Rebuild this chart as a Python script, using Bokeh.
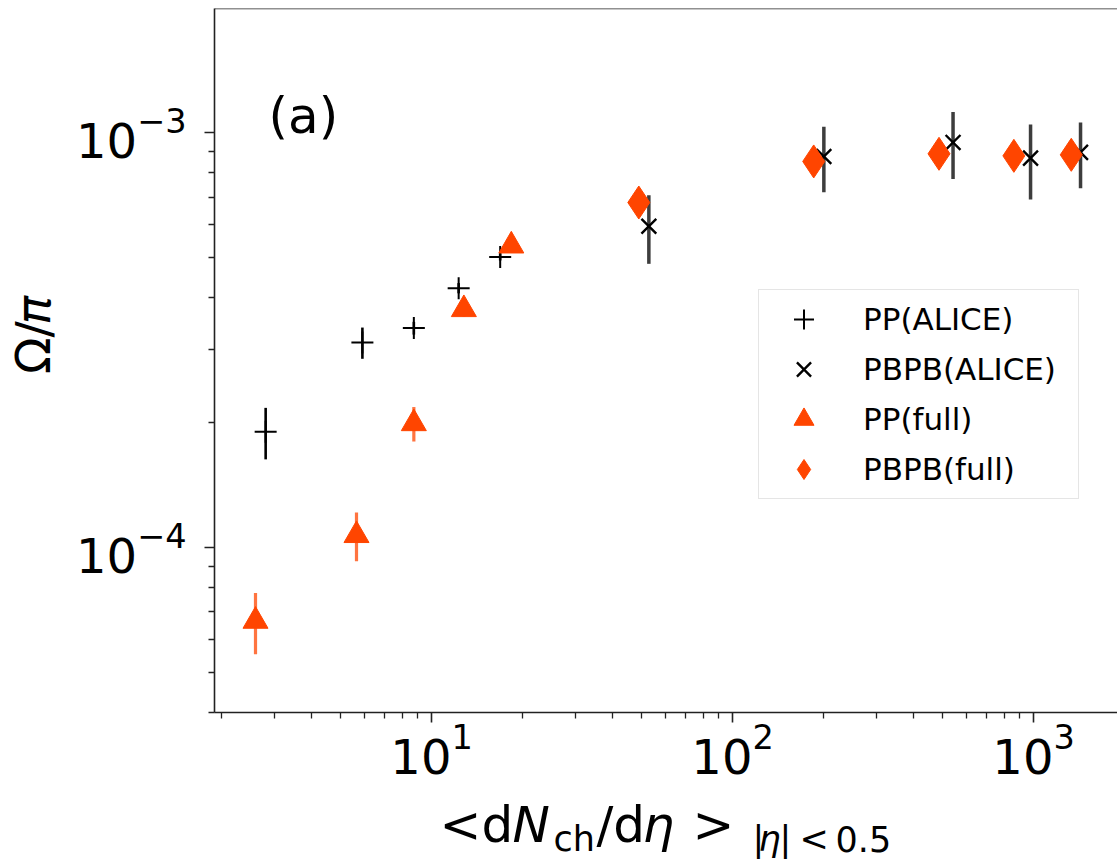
import numpy as np
from math import log10, pi
from bokeh.plotting import figure
from bokeh.layouts import row, column
from bokeh.models import (ColumnDataSource, FixedTicker, Label, Legend,
                          LegendItem, Span, Range1d)
from bokeh.embed import file_html
from bokeh.resources import INLINE

# ---- data ----
pp_alice_x = [2.81, 5.89, 8.73, 12.3, 16.9]
pp_alice_y = [1.90e-4, 3.12e-4, 3.38e-4, 4.22e-4, 5.02e-4]
pp_alice_err = [0.27e-4, 0.27e-4, 0.12e-4, 0.12e-4, 0.10e-4]

pbpb_alice_x = [52.7, 201.0, 540.0, 977.0, 1432.0]
pbpb_alice_y = [5.95e-4, 8.77e-4, 9.48e-4, 8.69e-4, 8.97e-4]
pbpb_alice_err = [1.12e-4, 1.58e-4, 1.74e-4, 1.79e-4, 1.62e-4]

pp_full_x = [2.60, 5.63, 8.73, 12.8, 18.4]
pp_full_y = [6.64e-5, 1.069e-4, 1.99e-4, 3.75e-4, 5.34e-4]
pp_full_err = [1.12e-5, 1.44e-5, 1.9e-5, 1.5e-5, 2.0e-5]

pbpb_full_x = [48.8, 186.0, 485.0, 860.0, 1334.0]
pbpb_full_y = [6.79e-4, 8.53e-4, 8.90e-4, 8.80e-4, 8.85e-4]

legend_labels = ["PP(ALICE)", "PBPB(ALICE)", "PP(full)", "PBPB(full)"]

x_major = [10, 100, 1000]
x_minor = [2, 3, 4, 5, 6, 7, 8, 9, 20, 30, 40, 50, 60, 70, 80, 90,
           200, 300, 400, 500, 600, 700, 800, 900]
y_major = [1e-4, 1e-3]
y_minor = [4e-5, 5e-5, 6e-5, 7e-5, 8e-5, 9e-5,
           2e-4, 3e-4, 4e-4, 5e-4, 6e-4, 7e-4, 8e-4, 9e-4]

X_RANGE = (1.90, 1900.0)
Y_RANGE = (3.995e-5, 1.995e-3)

ORANGE = "#ff4500"
SPINE = "#222222"
FONT = "DejaVu Sans"
MID = 0.36   # distance baseline -> text middle, in em

# ---- layout geometry (page pixels) ----
W, H = 1117, 859
YT_W = 70            # strip holding the y title
MAIN_H = 790         # main figure height
XT_H = H - MAIN_H    # strip holding the x title

p = figure(width=W - YT_W, height=MAIN_H, x_axis_type="log", y_axis_type="log",
           x_range=X_RANGE, y_range=Y_RANGE,
           output_backend="svg", toolbar_location=None,
           min_border_left=214 - YT_W, min_border_right=0, min_border_top=8,
           min_border_bottom=MAIN_H - 712)
p.outline_line_color = None
p.grid.visible = False
p.background_fill_color = "white"
p.border_fill_color = "white"

for ax in (p.xaxis[0], p.yaxis[0]):
    ax.axis_line_color = SPINE
    ax.axis_line_width = 1.6
    ax.major_tick_line_color = SPINE
    ax.major_tick_line_width = 1.6
    ax.minor_tick_line_color = SPINE
    ax.minor_tick_line_width = 1.3
    ax.major_tick_out = 10
    ax.major_tick_in = 0
    ax.minor_tick_out = 6
    ax.minor_tick_in = 0
    ax.major_label_text_font = FONT
    ax.major_label_text_font_size = "48px"
    ax.major_label_text_color = "black"
p.xaxis.major_label_standoff = 0
p.yaxis.major_label_standoff = 18
p.xaxis.ticker = FixedTicker(ticks=x_major, minor_ticks=x_minor)
p.yaxis.ticker = FixedTicker(ticks=y_major, minor_ticks=y_minor)

p.add_layout(Span(location=Y_RANGE[1], dimension="width",
                  line_color=SPINE, line_width=1.6))

def err_source(xs, ys, es):
    ys = np.array(ys)
    es = np.array(es)
    return ColumnDataSource(dict(x=xs, y=list(ys), lo=list(ys - es), hi=list(ys + es)))

s_ppa = err_source(pp_alice_x, pp_alice_y, pp_alice_err)
s_pba = err_source(pbpb_alice_x, pbpb_alice_y, pbpb_alice_err)
s_ppf = err_source(pp_full_x, pp_full_y, pp_full_err)
s_pbf = ColumnDataSource(dict(x=pbpb_full_x, y=pbpb_full_y))

p.segment(x0="x", y0="lo", x1="x", y1="hi", source=s_ppa,
          line_color="black", line_width=2.6)
r_ppa = p.scatter("x", "y", source=s_ppa, marker="cross", size=22,
                  line_color="black", line_width=2)

p.segment(x0="x", y0="lo", x1="x", y1="hi", source=s_pba,
          line_color="#3d3d3d", line_width=3.5)
r_pba = p.scatter("x", "y", source=s_pba, marker="x", size=21,
                  line_color="black", line_width=2.4)

p.segment(x0="x", y0="lo", x1="x", y1="hi", source=s_ppf,
          line_color=ORANGE, line_alpha=0.75, line_width=3.2)
r_ppf = p.scatter("x", "y", source=s_ppf, marker="triangle", size=25,
                  fill_color=ORANGE, line_color=ORANGE, line_width=1)

r_pbf = p.scatter("x", "y", source=s_pbf, marker="diamond", size=33,
                  fill_color=ORANGE, line_color=ORANGE, line_width=1)

legend = Legend(items=[LegendItem(label=legend_labels[0], renderers=[r_ppa]),
                       LegendItem(label=legend_labels[1], renderers=[r_pba]),
                       LegendItem(label=legend_labels[2], renderers=[r_ppf]),
                       LegendItem(label=legend_labels[3], renderers=[r_pbf])],
                location=(544, 213), glyph_width=81, glyph_height=50,
                spacing=0, padding=4, label_standoff=19, label_width=211,
                margin=0, label_text_font=FONT, label_text_font_size="31px",
                label_text_color="black",
                border_line_color="#cccccc", border_line_width=1.2,
                background_fill_color="white", background_fill_alpha=0.8)
p.add_layout(legend)

# panel tag "(a)", placed from page pixels through the log scales
def dx(px):
    return 10 ** (log10(X_RANGE[0]) + (px - 214) / 301.0)

def dy(py):
    return 10 ** (-3 - (py - 132.6) / 414.3)

TAG_SIZE = 50
p.add_layout(Label(x=dx(268), y=dy(133.5 - MID * TAG_SIZE), text="(a)",
                   text_font=FONT, text_font_size=f"{TAG_SIZE}px",
                   text_color="black", text_align="left",
                   text_baseline="middle"))

# ---- title strips (pixel coordinates, y measured from the strip's top) ----
def strip(width, height):
    f = figure(width=width, height=height, output_backend="svg",
               toolbar_location=None, x_range=Range1d(0, width),
               y_range=Range1d(height, 0), min_border=0)
    f.axis.visible = False
    f.grid.visible = False
    f.outline_line_color = None
    f.background_fill_color = "white"
    f.border_fill_color = "white"
    return f

def txt(f, x, base, s, size, style="normal"):
    # x: left edge, base: baseline (strip pixels)
    f.add_layout(Label(x=x, y=base - MID * size, text=s, text_font=FONT,
                       text_font_size=f"{size}px", text_font_style=style,
                       text_color="black", text_align="left",
                       text_baseline="middle"))

def vtxt(f, base_x, center_y, s, size, style="normal"):
    # rotated text, reading bottom -> top; base_x: baseline column
    f.add_layout(Label(x=base_x - MID * size, y=center_y, text=s,
                       text_font=FONT, text_font_size=f"{size}px",
                       text_font_style=style, text_color="black",
                       text_align="center", text_baseline="middle",
                       angle=pi / 2))

# y title  Ω/π
ytf = strip(YT_W, MAIN_H)
vtxt(ytf, 50, 380.6, "Ω/", 48)
vtxt(ytf, 50, 338.6, "π", 48, "italic")

# x title  <dN_ch/dη >_{|η|<0.5}
xtf = strip(W, XT_H)
MB, SB = 842 - MAIN_H, 851 - MAIN_H
txt(xtf, 439, MB, "<d", 50)
txt(xtf, 512, MB, "N", 50, "italic")
txt(xtf, 553, SB, "ch", 35)
txt(xtf, 596, MB, "/d", 50)
txt(xtf, 642, MB, "η", 50, "italic")
txt(xtf, 692, MB, ">", 50)
txt(xtf, 752, SB, "|", 35)
txt(xtf, 758, SB, "η", 35, "italic")
txt(xtf, 779, SB, "|", 35)
txt(xtf, 799, SB, "<", 35)
txt(xtf, 835, SB, "0.5", 35)

layout = column(row(ytf, p, spacing=0), xtf, spacing=0)

open("out.html", "w").write(file_html(layout, INLINE))
